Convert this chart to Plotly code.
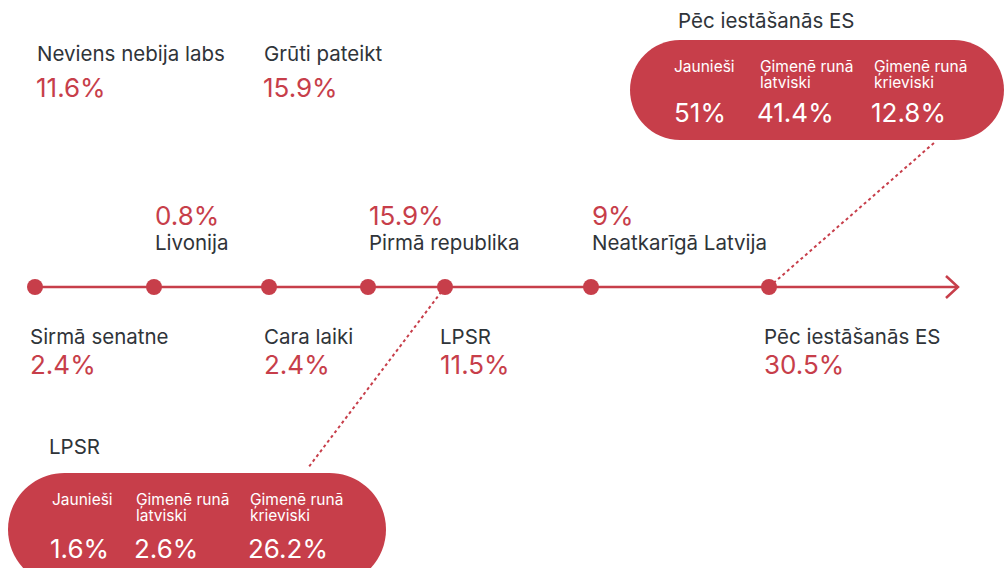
import plotly.graph_objects as go

# ---- data ----
periods = ["Sirmā senatne", "Livonija", "Cara laiki", "Pirmā republika", "LPSR",
           "Neatkarīgā Latvija", "Pēc iestāšanās ES"]
period_values = [2.4, 0.8, 2.4, 15.9, 11.5, 9, 30.5]
label_side = ["below", "above", "below", "above", "below", "above", "below"]

other_labels = ["Neviens nebija labs", "Grūti pateikt"]
other_values = [11.6, 15.9]

group_labels = [["Jaunieši"], ["Ģimenē runā", "latviski"], ["Ģimenē runā", "krieviski"]]
lpsr_values = [1.6, 2.6, 26.2]
es_values = [51, 41.4, 12.8]

# ---- layout / positions (pixel space) ----
W, H = 1004, 568
RED = "#C73E4A"
DARK = "#2F3439"
FONT = "Inter"
dot_x = [35, 154, 269, 368, 445, 591, 769]
line_y = 287
other_x = [35, 262]
lpsr_col_x = [50, 134, 248]
es_col_x = [675, 758, 872]

LBL = 20.5
PCT = 26
SMALL = 15.5
BIG = 26


def pct(v):
    return f"{v:g}%"


fig = go.Figure()
anns = []
shapes = []


def text(x, y, s, size, color, anchor="left"):
    anns.append(dict(x=x, y=y, text=s, showarrow=False, xanchor=anchor, yanchor="middle",
                     font=dict(family=FONT, size=size, color=color), xref="x", yref="y"))


def pill(x0, x1, y0, y1):
    r = (y1 - y0) / 2
    k = 0.5523 * r
    cy = (y0 + y1) / 2
    p = (f"M {x0 + r},{y0} L {x1 - r},{y0} "
         f"C {x1 - r + k},{y0} {x1},{cy - k} {x1},{cy} "
         f"C {x1},{cy + k} {x1 - r + k},{y1} {x1 - r},{y1} "
         f"L {x0 + r},{y1} "
         f"C {x0 + r - k},{y1} {x0},{cy + k} {x0},{cy} "
         f"C {x0},{cy - k} {x0 + r - k},{y0} {x0 + r},{y0} Z")
    shapes.append(dict(type="path", path=p, fillcolor=RED, line=dict(width=0),
                       xref="x", yref="y", layer="below"))


# timeline line and arrow
fig.add_trace(go.Scatter(x=[dot_x[0], 958], y=[line_y, line_y], mode="lines",
                         line=dict(color=RED, width=2.5), hoverinfo="skip"))
fig.add_trace(go.Scatter(x=[946, 958, 946], y=[line_y - 11, line_y, line_y + 11], mode="lines",
                         line=dict(color=RED, width=2.5), hoverinfo="skip"))

# dotted connectors
fig.add_trace(go.Scatter(x=[dot_x[4], 308], y=[line_y, 468], mode="lines",
                         line=dict(color=RED, width=2, dash="dot"), hoverinfo="skip"))
fig.add_trace(go.Scatter(x=[dot_x[6], 935], y=[line_y, 142], mode="lines",
                         line=dict(color=RED, width=2, dash="dot"), hoverinfo="skip"))

# dots
fig.add_trace(go.Scatter(x=dot_x, y=[line_y] * len(dot_x), mode="markers",
                         marker=dict(color=RED, size=16), text=periods,
                         customdata=period_values,
                         hovertemplate="%{text}: %{customdata}%<extra></extra>"))

# period labels
for x, name, v, side in zip(dot_x, periods, period_values, label_side):
    if side == "above":
        text(x - 1, 215, pct(v), PCT, RED)
        text(x - 1, 242, name, LBL, DARK)
    else:
        text(x - 7, 336, name, LBL, DARK)
        text(x - 7, 364, pct(v), PCT, RED)

# other answers
for x, name, v in zip(other_x, other_labels, other_values):
    text(x, 53, name, LBL, DARK)
    text(x - 1, 87, pct(v), PCT, RED)

# ES pill
text(676, 20, "Pēc iestāšanās ES", LBL, DARK)
pill(630, 1004, 40, 140)
for x, lab, v in zip(es_col_x, group_labels, es_values):
    for i, line in enumerate(lab):
        text(x - (3 if len(lab) == 1 else 0), 66 + i * 16, line, SMALL, "white")
    text(x - 3, 112, pct(v), BIG, "white")

# LPSR pill
text(47, 446, "LPSR", LBL, DARK)
pill(8, 386, 473, 586)
for x, lab, v in zip(lpsr_col_x, group_labels, lpsr_values):
    for i, line in enumerate(lab):
        text(x, 499 + i * 16, line, SMALL, "white")
    text(x - 2, 548, pct(v), BIG, "white")

fig.update_layout(
    width=W, height=H, margin=dict(l=0, r=0, t=0, b=0),
    paper_bgcolor="white", plot_bgcolor="white", showlegend=False,
    xaxis=dict(range=[0, W], visible=False, fixedrange=True),
    yaxis=dict(range=[H, 0], visible=False, fixedrange=True),
    annotations=anns, shapes=shapes,
)
fig.write_html("out.html", config={"displayModeBar": False},
               post_script="document.body.style.margin='0';document.body.style.overflow='hidden';")
